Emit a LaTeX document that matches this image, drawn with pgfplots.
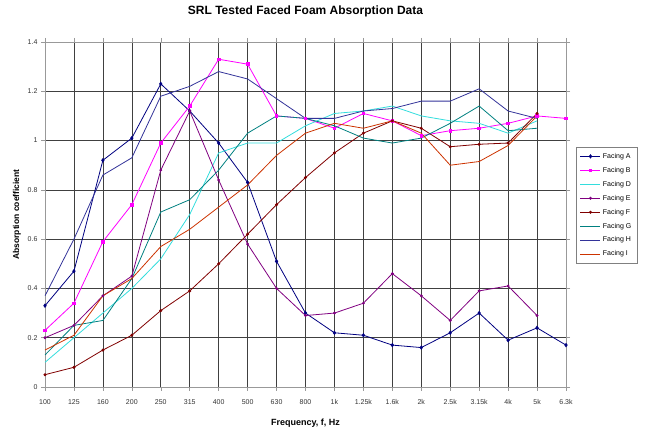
\documentclass[border=0pt]{standalone}
\usepackage{fontspec}
\setmainfont{Liberation Sans}
\usepackage{pgfplots}
\pgfplotsset{compat=1.18}
\definecolor{cA}{HTML}{000080}
\definecolor{cB}{HTML}{FF00FF}
\definecolor{cD}{HTML}{33DDDD}
\definecolor{cE}{HTML}{800080}
\definecolor{cF}{HTML}{800000}
\definecolor{cG}{HTML}{008080}
\definecolor{cH}{HTML}{333399}
\definecolor{cI}{HTML}{CC3300}
\begin{document}
\begin{tikzpicture}
\useasboundingbox (0pt,0pt) rectangle (646pt,428pt);
\begin{axis}[
  at={(45pt,41pt)}, anchor=south west,
  scale only axis, width=521pt, height=345pt,
  xmin=0, xmax=18, ymin=0, ymax=1.4,
  xtick={0,...,18},
  xticklabels={100,125,160,200,250,315,400,500,630,800,1k,1.25k,1.6k,2k,2.5k,3.15k,4k,5k,6.3k},
  ytick={0,0.2,0.4,0.6,0.8,1,1.2,1.4},
  yticklabels={0,0.2,0.4,0.6,0.8,1,1.2,1.4},
  grid=major,
  grid style={black!75, line width=0.6pt},
  axis line style={gray!80},
  tick align=outside,
  major tick length=4pt,
  tick style={gray!80, line width=0.5pt},
  tick label style={font=\fontsize{7}{8}\selectfont, text=black!80},
  xticklabel style={yshift=-5pt},
  /pgf/number format/assume math mode=true,
  title={\bfseries SRL Tested Faced Foam Absorption Data},
  title style={at={(axis description cs:0.5,1.072)}, anchor=center, font=\fontsize{12}{14}\selectfont},
  xlabel={\bfseries Frequency, f, Hz},
  xlabel style={at={(axis description cs:0.5,-0.104)}, anchor=center, font=\fontsize{9}{10}\selectfont},
  ylabel={\bfseries Absorption coefficient},
  ylabel style={at={(axis description cs:-0.054,0.5)}, anchor=center, rotate=0, font=\fontsize{8.5}{10}\selectfont},
  legend style={at={(1.019,0.696)}, anchor=north west, draw=gray, fill=white,
    font=\fontsize{7}{8}\selectfont, row sep=3.4pt, inner sep=4pt, cells={anchor=west}},
  legend image code/.code={\draw[#1] (0pt,0pt) -- (20pt,0pt); \path[#1, only marks] plot coordinates {(10pt,0pt)};},
  every axis plot/.append style={line width=0.8pt},
]
\addplot[cA, mark=diamond*, mark size=1.6pt] coordinates {
(0,0.33)(1,0.47)(2,0.92)(3,1.01)(4,1.23)(5,1.12)(6,0.99)(7,0.83)(8,0.51)(9,0.30)
(10,0.22)(11,0.21)(12,0.17)(13,0.16)(14,0.22)(15,0.30)(16,0.19)(17,0.24)(18,0.17)};
\addlegendentry{Facing A}
\addplot[cB, mark=square*, mark size=1.3pt] coordinates {
(0,0.23)(1,0.34)(2,0.59)(3,0.74)(4,0.99)(5,1.14)(6,1.33)(7,1.31)(8,1.10)(9,1.09)
(10,1.05)(11,1.11)(12,1.08)(13,1.02)(14,1.04)(15,1.05)(16,1.07)(17,1.10)(18,1.09)};
\addlegendentry{Facing B}
\addplot[cD, mark=none] coordinates {
(0,0.10)(1,0.20)(2,0.30)(3,0.40)(4,0.52)(5,0.70)(6,0.95)(7,0.99)(8,0.99)(9,1.06)
(10,1.11)(11,1.12)(12,1.14)(13,1.10)(14,1.08)(15,1.07)(16,1.03)(17,1.08)};
\addlegendentry{Facing D}
\addplot[cE, mark=*, mark size=1pt] coordinates {
(0,0.20)(1,0.25)(2,0.37)(3,0.45)(4,0.88)(5,1.12)(6,0.84)(7,0.58)(8,0.40)(9,0.29)
(10,0.30)(11,0.34)(12,0.46)(13,0.37)(14,0.27)(15,0.39)(16,0.41)(17,0.29)};
\addlegendentry{Facing E}
\addplot[cF, mark=*, mark size=1.1pt] coordinates {
(0,0.05)(1,0.08)(2,0.15)(3,0.21)(4,0.31)(5,0.39)(6,0.50)(7,0.62)(8,0.74)(9,0.85)
(10,0.95)(11,1.03)(12,1.08)(13,1.05)(14,0.975)(15,0.985)(16,0.99)(17,1.11)};
\addlegendentry{Facing F}
\addplot[cG, mark=none] coordinates {
(0,0.13)(1,0.25)(2,0.27)(3,0.44)(4,0.71)(5,0.76)(6,0.88)(7,1.03)(8,1.10)(9,1.09)
(10,1.06)(11,1.01)(12,0.99)(13,1.01)(14,1.07)(15,1.14)(16,1.04)(17,1.05)};
\addlegendentry{Facing G}
\addplot[cH, mark=none] coordinates {
(0,0.37)(1,0.60)(2,0.86)(3,0.93)(4,1.18)(5,1.22)(6,1.28)(7,1.25)(8,1.17)(9,1.09)
(10,1.09)(11,1.12)(12,1.13)(13,1.16)(14,1.16)(15,1.21)(16,1.12)(17,1.09)};
\addlegendentry{Facing H}
\addplot[cI, mark=none] coordinates {
(0,0.15)(1,0.21)(2,0.37)(3,0.44)(4,0.57)(5,0.64)(6,0.73)(7,0.82)(8,0.94)(9,1.03)
(10,1.07)(11,1.05)(12,1.08)(13,1.03)(14,0.90)(15,0.915)(16,0.98)(17,1.10)};
\addlegendentry{Facing I}
\end{axis}
\end{tikzpicture}
\end{document}
